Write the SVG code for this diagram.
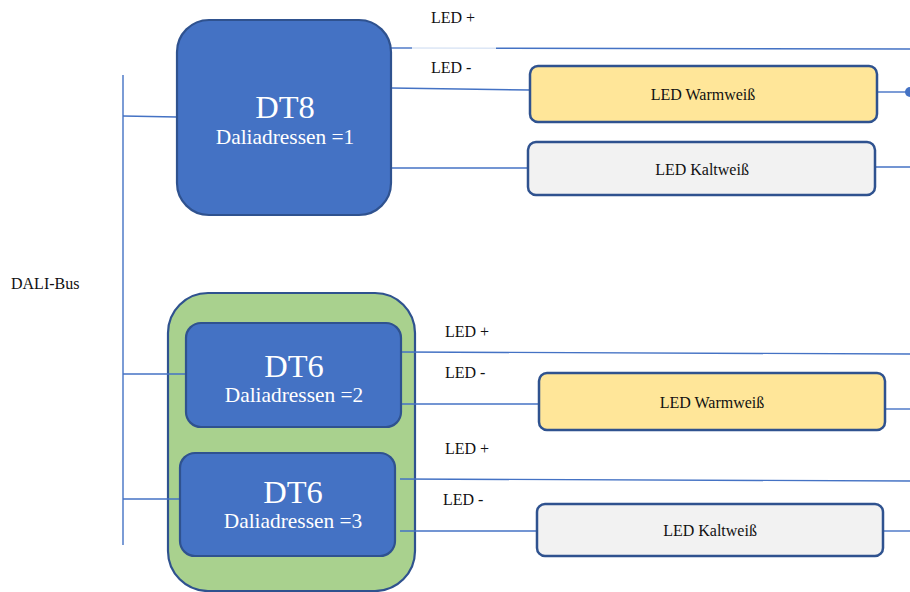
<svg xmlns="http://www.w3.org/2000/svg" width="910" height="592" viewBox="0 0 910 592">
  <style>
    .wire { stroke: #4472C4; stroke-width: 1.4; fill: none; }
    .ctrl { fill: #4472C4; stroke: #2F528F; stroke-width: 2.2; }
    .group { fill: #A9D18E; stroke: #2F528F; stroke-width: 2.2; }
    .warm { fill: #FFE699; stroke: #2F528F; stroke-width: 2.5; }
    .cold { fill: #F2F2F2; stroke: #2F528F; stroke-width: 2.5; }
    .title { font-family: "Liberation Serif", serif; font-size: 32.5px; fill: #FFFFFF; text-anchor: middle; }
    .sub { font-family: "Liberation Serif", serif; font-size: 21.4px; fill: #FFFFFF; text-anchor: middle; }
    .lbl { font-family: "Liberation Serif", serif; font-size: 16px; fill: #111111; }
    .mid { text-anchor: middle; }
  </style>

  <!-- container behind the two DT6 controllers -->
  <g id="dt6-group">
    <rect class="group" x="168" y="293" width="247" height="298" rx="40"/>
  </g>

  <!-- bus and wiring -->
  <g id="connectors">
    <line class="wire" x1="123" y1="75" x2="123" y2="545"/>
    <line class="wire" x1="123" y1="116" x2="177" y2="117"/>
    <line class="wire" x1="123" y1="374" x2="186" y2="374"/>
    <line class="wire" x1="123" y1="499" x2="180" y2="499"/>

    <!-- DT8 outputs -->
    <line class="wire" x1="391" y1="48" x2="412" y2="48"/>
    <line x1="412" y1="48" x2="496" y2="48.2" stroke="#DCE6F5" stroke-width="1.4"/>
    <line class="wire" x1="496" y1="48.2" x2="910" y2="49"/>
    <line class="wire" x1="391" y1="88" x2="530" y2="90"/>
    <line class="wire" x1="877" y1="92" x2="906" y2="92"/>
    <circle cx="910" cy="92" r="5" fill="#4472C4"/>
    <line class="wire" x1="391" y1="168" x2="528" y2="168"/>
    <line class="wire" x1="875" y1="167" x2="910" y2="167"/>

    <!-- DT6 (2) outputs -->
    <line class="wire" x1="401" y1="352" x2="910" y2="354"/>
    <line class="wire" x1="401" y1="404" x2="539" y2="404"/>
    <line class="wire" x1="885" y1="409" x2="910" y2="409"/>

    <!-- DT6 (3) outputs -->
    <line class="wire" x1="400" y1="479" x2="910" y2="481"/>
    <line class="wire" x1="400" y1="531" x2="537" y2="531"/>
    <line class="wire" x1="883" y1="531" x2="910" y2="531"/>
  </g>

  <g id="bus-label">
    <text class="lbl" x="11" y="289">DALI-Bus</text>
  </g>

  <g id="wire-labels">
    <text class="lbl" x="431" y="23">LED +</text>
    <text class="lbl" x="431" y="73">LED -</text>
    <text class="lbl" x="445" y="337">LED +</text>
    <text class="lbl" x="445" y="378">LED -</text>
    <text class="lbl" x="445" y="454">LED +</text>
    <text class="lbl" x="443" y="505">LED -</text>
  </g>

  <g id="dt8">
    <rect class="ctrl" x="177" y="20" width="214" height="195" rx="32"/>
    <text class="title" x="285" y="118">DT8</text>
    <text class="sub" x="285" y="144">Daliadressen =1</text>
  </g>

  <g id="dt6-2">
    <rect class="ctrl" x="186" y="323" width="215" height="104" rx="15"/>
    <text class="title" x="294" y="377">DT6</text>
    <text class="sub" x="294" y="402">Daliadressen =2</text>
  </g>

  <g id="dt6-3">
    <rect class="ctrl" x="180" y="453" width="215" height="103" rx="15"/>
    <text class="title" x="293" y="503">DT6</text>
    <text class="sub" x="293" y="528">Daliadressen =3</text>
  </g>

  <g id="led-warm-1">
    <rect class="warm" x="530" y="66" width="347" height="56" rx="8"/>
    <text class="lbl mid" x="703" y="100">LED Warmweiß</text>
  </g>

  <g id="led-cold-1">
    <rect class="cold" x="528" y="142" width="347" height="53" rx="8"/>
    <text class="lbl mid" x="702" y="175">LED Kaltweiß</text>
  </g>

  <g id="led-warm-2">
    <rect class="warm" x="539" y="373" width="346" height="57" rx="8"/>
    <text class="lbl mid" x="712" y="408">LED Warmweiß</text>
  </g>

  <g id="led-cold-2">
    <rect class="cold" x="537" y="504" width="346" height="52" rx="8"/>
    <text class="lbl mid" x="710" y="536">LED Kaltweiß</text>
  </g>
</svg>
